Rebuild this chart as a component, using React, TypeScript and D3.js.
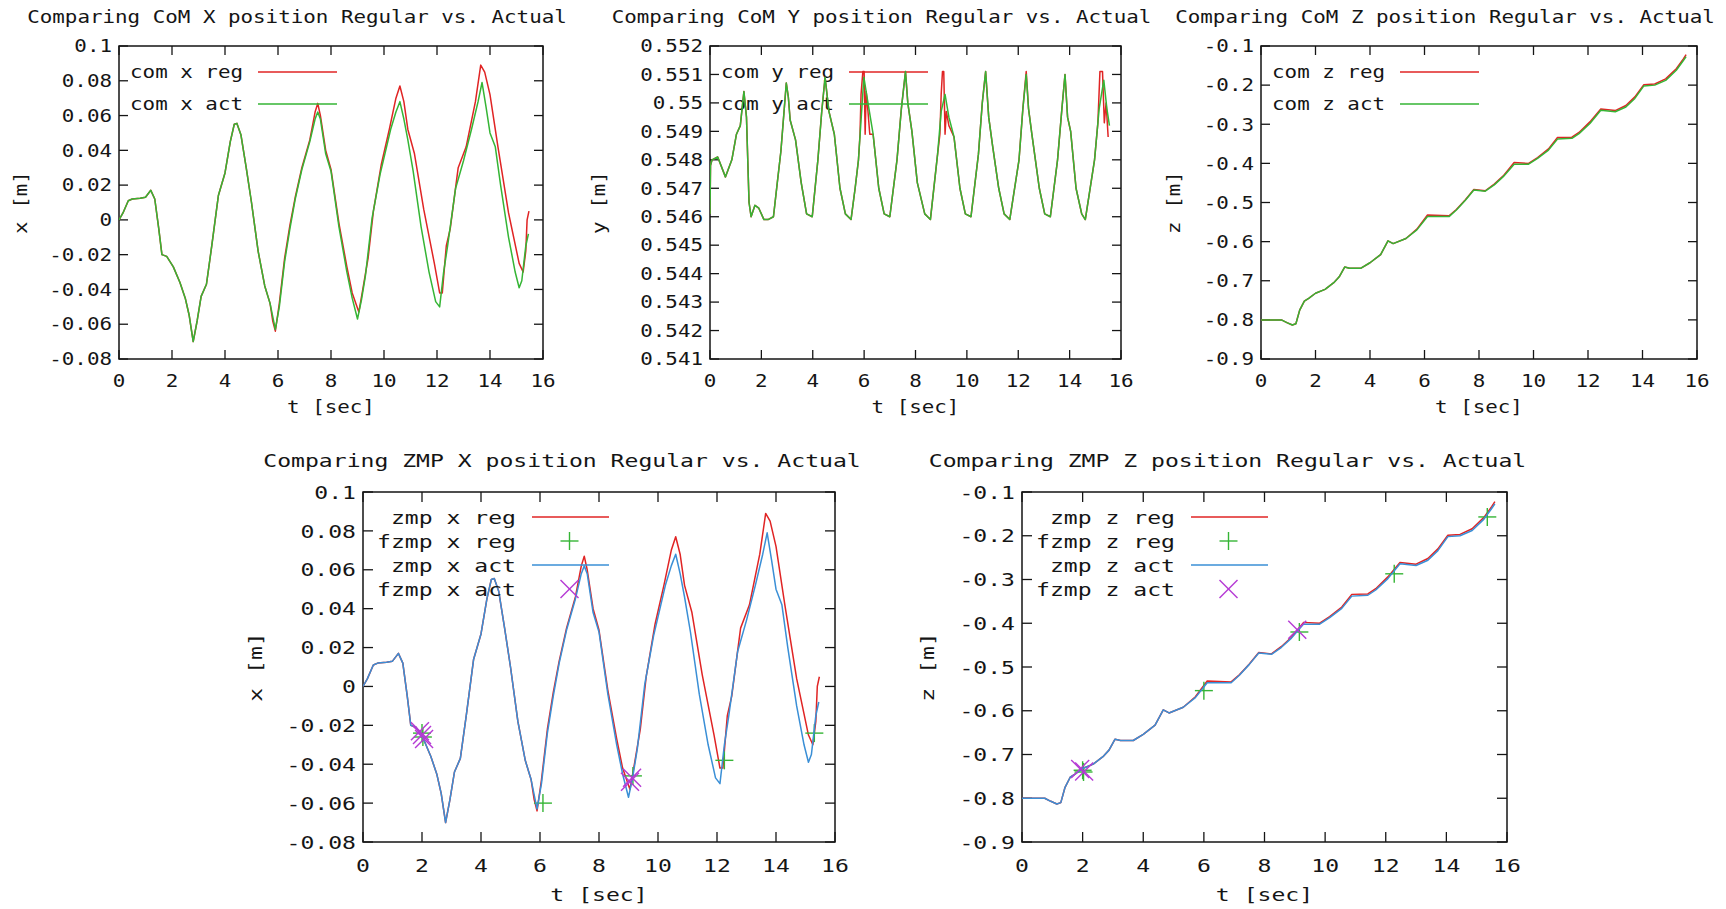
import React, { useEffect, useRef } from 'react';
import * as d3 from 'd3';

const WIDTH = 1726;
const HEIGHT = 909;

type Pt = [number, number];

// ---- data: [t sec, value m] ----
const comXAct: Pt[] = [
  [0, 0], [0.15, 0.004], [0.35, 0.011], [0.5, 0.012], [0.8, 0.0125], [1.0, 0.013], [1.2, 0.017],
  [1.35, 0.012], [1.5, -0.005], [1.62, -0.02], [1.8, -0.021], [2.05, -0.027], [2.3, -0.036],
  [2.5, -0.045], [2.65, -0.055], [2.8, -0.07], [2.95, -0.058], [3.1, -0.044], [3.3, -0.037],
  [3.5, -0.015], [3.75, 0.014], [4.0, 0.027], [4.2, 0.045], [4.35, 0.055], [4.45, 0.0555],
  [4.6, 0.049], [4.8, 0.03], [5.0, 0.01], [5.25, -0.018], [5.5, -0.038], [5.7, -0.048],
  [5.9, -0.063], [6.05, -0.05], [6.25, -0.024], [6.45, -0.005], [6.65, 0.012], [6.9, 0.029],
  [7.2, 0.045], [7.4, 0.058], [7.5, 0.062], [7.6, 0.058], [7.8, 0.038], [8.0, 0.028],
  [8.3, -0.004], [8.6, -0.03], [8.8, -0.045], [9.0, -0.057], [9.15, -0.046], [9.3, -0.032],
  [9.55, 0.001], [9.85, 0.026], [10.25, 0.052], [10.45, 0.062], [10.6, 0.068], [10.75, 0.058],
  [10.9, 0.046], [11.1, 0.028], [11.4, -0.004], [11.7, -0.03], [11.95, -0.047], [12.1, -0.05],
  [12.25, -0.03], [12.4, -0.015], [12.7, 0.018], [13.0, 0.034], [13.3, 0.052], [13.55, 0.068],
  [13.7, 0.079], [13.85, 0.065], [14.0, 0.05], [14.2, 0.042], [14.4, 0.02], [14.7, -0.01],
  [14.95, -0.03], [15.1, -0.039], [15.2, -0.035], [15.35, -0.015], [15.45, -0.008],
];

const comXReg: Pt[] = [
  ...comXAct.filter((d) => d[0] < 5.8),
  [5.8, -0.058], [5.9, -0.064], [6.05, -0.048], [6.25, -0.022], [6.45, -0.003], [6.65, 0.013],
  [6.9, 0.03], [7.2, 0.046], [7.4, 0.062], [7.5, 0.067], [7.6, 0.06], [7.8, 0.04], [8.0, 0.029],
  [8.3, -0.002], [8.6, -0.027], [8.8, -0.042], [9.05, -0.053], [9.2, -0.04], [9.4, -0.022],
  [9.6, 0.005], [9.9, 0.032], [10.2, 0.052], [10.45, 0.07], [10.6, 0.077], [10.75, 0.068],
  [10.9, 0.052], [11.15, 0.038], [11.5, 0.006], [11.9, -0.025], [12.1, -0.042], [12.2, -0.042],
  [12.35, -0.015], [12.5, -0.005], [12.8, 0.03], [13.1, 0.042], [13.45, 0.068], [13.65, 0.089],
  [13.8, 0.085], [14.0, 0.072], [14.3, 0.042], [14.7, 0.004], [15.1, -0.025], [15.25, -0.03],
  [15.35, -0.018], [15.4, 0.0], [15.47, 0.005],
];

const comYAct: Pt[] = [
  [0, 0.5461], [0.02, 0.5478], [0.08, 0.548], [0.3, 0.5481], [0.6, 0.5474], [0.85, 0.548],
  [1.03, 0.5489], [1.18, 0.5492], [1.32, 0.5504], [1.42, 0.5495], [1.52, 0.5465], [1.6, 0.546],
  [1.75, 0.5464], [1.9, 0.5463], [2.1, 0.5459], [2.26, 0.5459], [2.47, 0.546], [2.62, 0.5472],
  [2.76, 0.5483], [2.97, 0.5507], [3.05, 0.5502], [3.12, 0.5494], [3.33, 0.5487], [3.55, 0.5472],
  [3.76, 0.5461], [3.98, 0.546], [4.2, 0.548], [4.35, 0.5497], [4.48, 0.5509], [4.63, 0.5497],
  [4.84, 0.5489], [5.06, 0.547], [5.27, 0.5461], [5.49, 0.5459], [5.65, 0.547], [5.78, 0.548],
  [5.99, 0.5509], [6.15, 0.55], [6.35, 0.5489], [6.57, 0.547], [6.78, 0.5461], [7.0, 0.546],
  [7.28, 0.548], [7.45, 0.5498], [7.61, 0.5511], [7.7, 0.55], [7.86, 0.549], [8.07, 0.5472],
  [8.36, 0.5461], [8.58, 0.5459], [8.86, 0.5482], [9.0, 0.5497], [9.15, 0.5503], [9.3, 0.5495],
  [9.5, 0.5488], [9.73, 0.547], [9.94, 0.5461], [10.16, 0.546], [10.45, 0.5482], [10.6, 0.55],
  [10.73, 0.5511], [10.85, 0.5495], [11.0, 0.5485], [11.24, 0.547], [11.45, 0.5461],
  [11.67, 0.5459], [12.03, 0.548], [12.18, 0.5498], [12.31, 0.551], [12.4, 0.5498],
  [12.53, 0.5489], [12.82, 0.547], [13.03, 0.5461], [13.25, 0.546], [13.53, 0.548],
  [13.7, 0.5498], [13.82, 0.551], [13.92, 0.5495], [14.04, 0.549], [14.25, 0.547],
  [14.47, 0.5461], [14.61, 0.5459], [14.97, 0.548], [15.15, 0.5498], [15.33, 0.5508],
  [15.45, 0.5498], [15.55, 0.5492],
];

const comYReg: Pt[] = [
  ...comYAct.filter((d) => d[0] <= 5.78),
  [5.84, 0.5489], [5.88, 0.5503], [5.95, 0.5511], [6.0, 0.5511], [6.04, 0.5489], [6.08, 0.5504],
  [6.15, 0.5497], [6.22, 0.5489], [6.35, 0.5489],
  ...comYAct.filter((d) => d[0] > 6.35 && d[0] <= 8.86),
  [8.95, 0.5489], [9.0, 0.5503], [9.05, 0.5511], [9.1, 0.5511], [9.15, 0.5489], [9.2, 0.5497],
  [9.3, 0.5492], [9.5, 0.5488],
  ...comYAct.filter((d) => d[0] > 9.5 && d[0] <= 12.18),
  [12.31, 0.5511],
  ...comYAct.filter((d) => d[0] > 12.31 && d[0] <= 14.97),
  [15.1, 0.5493], [15.18, 0.5511], [15.28, 0.5511], [15.35, 0.5493], [15.42, 0.55], [15.5, 0.5488],
];

const comZAct: Pt[] = [
  [0, -0.8], [0.75, -0.8], [0.95, -0.807], [1.15, -0.813], [1.28, -0.81], [1.42, -0.775],
  [1.59, -0.752], [1.75, -0.745], [2.0, -0.732], [2.35, -0.722], [2.67, -0.705], [2.87, -0.69],
  [3.07, -0.665], [3.25, -0.668], [3.67, -0.668], [4.0, -0.654], [4.39, -0.633], [4.66, -0.598],
  [4.85, -0.605], [5.32, -0.592], [5.72, -0.57], [6.11, -0.536], [6.9, -0.536], [7.17, -0.519],
  [7.5, -0.494], [7.81, -0.468], [8.23, -0.471], [8.56, -0.455], [8.89, -0.434], [9.29, -0.402],
  [9.82, -0.402], [10.15, -0.387], [10.55, -0.366], [10.88, -0.338], [11.41, -0.336],
  [11.67, -0.324], [12.07, -0.298], [12.47, -0.264], [13.0, -0.268], [13.39, -0.256],
  [13.72, -0.234], [14.05, -0.202], [14.45, -0.2], [14.85, -0.188], [15.24, -0.162],
  [15.5, -0.137], [15.6, -0.127],
];

const comZReg: Pt[] = [
  ...comZAct.filter((d) => d[0] < 5.7),
  [5.72, -0.568], [6.11, -0.532], [6.9, -0.534], [7.17, -0.518], [7.5, -0.493], [7.81, -0.467],
  [8.23, -0.47], [8.56, -0.453], [8.89, -0.432], [9.29, -0.398], [9.82, -0.4], [10.15, -0.385],
  [10.55, -0.363], [10.88, -0.334], [11.41, -0.333], [11.67, -0.321], [12.07, -0.294],
  [12.47, -0.261], [13.0, -0.265], [13.39, -0.252], [13.72, -0.23], [14.05, -0.199],
  [14.45, -0.197], [14.85, -0.184], [15.24, -0.158], [15.5, -0.133], [15.6, -0.122],
];

// ZMP curves coincide with the CoM curves in the picture
const zmpXReg: Pt[] = comXReg;
const zmpXAct: Pt[] = comXAct;
const zmpZReg: Pt[] = comZReg;
const zmpZAct: Pt[] = comZAct;

const fzmpXReg: Pt[] = [[2.0, -0.024], [2.03, -0.026], [6.1, -0.06], [9.15, -0.046], [12.25, -0.038], [15.3, -0.024]];
const fzmpXAct: Pt[] = [[1.93, -0.023], [2.0, -0.025], [2.07, -0.027], [9.05, -0.049], [9.12, -0.047]];
const fzmpZReg: Pt[] = [[2.0, -0.736], [2.03, -0.74], [6.0, -0.554], [9.15, -0.42], [12.28, -0.287], [15.35, -0.157]];
const fzmpZAct: Pt[] = [[1.92, -0.733], [2.05, -0.739], [9.08, -0.415]];

const timeTicks = [0, 2, 4, 6, 8, 10, 12, 14, 16];
const comXTicks = [-0.08, -0.06, -0.04, -0.02, 0, 0.02, 0.04, 0.06, 0.08, 0.1];
const comYTicks = [0.541, 0.542, 0.543, 0.544, 0.545, 0.546, 0.547, 0.548, 0.549, 0.55, 0.551, 0.552];
const comZTicks = [-0.9, -0.8, -0.7, -0.6, -0.5, -0.4, -0.3, -0.2, -0.1];

const RED = '#e02424';
const GREEN = '#35b535';
const BLUE = '#3a8fd6';
const PURPLE = '#b53ad4';
const INK = '#151515';
const FONT = '"DejaVu Sans Mono", monospace';

type Series = { name: string; data: Pt[]; color: string; kind: 'line' | 'plus' | 'cross' };

type Panel = {
  box: { l: number; r: number; t: number; b: number };
  ticks: number[];
  title: string;
  ylabel: string;
  ylabelX: number;
  big: boolean;
  series: Series[];
};

const panels: Panel[] = [
  {
    box: { l: 119, r: 543, t: 46, b: 359 }, ticks: comXTicks, ylabelX: 27, big: false,
    title: 'Comparing CoM X position Regular vs. Actual', ylabel: 'x [m]',
    series: [
      { name: 'com x reg', data: comXReg, color: RED, kind: 'line' },
      { name: 'com x act', data: comXAct, color: GREEN, kind: 'line' },
    ],
  },
  {
    box: { l: 710, r: 1121, t: 46, b: 359 }, ticks: comYTicks, ylabelX: 605, big: false,
    title: 'Comparing CoM Y position Regular vs. Actual', ylabel: 'y [m]',
    series: [
      { name: 'com y reg', data: comYReg, color: RED, kind: 'line' },
      { name: 'com y act', data: comYAct, color: GREEN, kind: 'line' },
    ],
  },
  {
    box: { l: 1261, r: 1697, t: 46, b: 359 }, ticks: comZTicks, ylabelX: 1180, big: false,
    title: 'Comparing CoM Z position Regular vs. Actual', ylabel: 'z [m]',
    series: [
      { name: 'com z reg', data: comZReg, color: RED, kind: 'line' },
      { name: 'com z act', data: comZAct, color: GREEN, kind: 'line' },
    ],
  },
  {
    box: { l: 363, r: 835, t: 492, b: 842 }, ticks: comXTicks, ylabelX: 262, big: true,
    title: 'Comparing ZMP X position Regular vs. Actual', ylabel: 'x [m]',
    series: [
      { name: 'zmp x reg', data: zmpXReg, color: RED, kind: 'line' },
      { name: 'fzmp x reg', data: fzmpXReg, color: GREEN, kind: 'plus' },
      { name: 'zmp x act', data: zmpXAct, color: BLUE, kind: 'line' },
      { name: 'fzmp x act', data: fzmpXAct, color: PURPLE, kind: 'cross' },
    ],
  },
  {
    box: { l: 1022, r: 1507, t: 492, b: 842 }, ticks: comZTicks, ylabelX: 934, big: true,
    title: 'Comparing ZMP Z position Regular vs. Actual', ylabel: 'z [m]',
    series: [
      { name: 'zmp z reg', data: zmpZReg, color: RED, kind: 'line' },
      { name: 'fzmp z reg', data: fzmpZReg, color: GREEN, kind: 'plus' },
      { name: 'zmp z act', data: zmpZAct, color: BLUE, kind: 'line' },
      { name: 'fzmp z act', data: fzmpZAct, color: PURPLE, kind: 'cross' },
    ],
  },
];

const fmt = (v: number) => String(Number(v.toFixed(4)));

function drawMarker(g: any, kind: 'plus' | 'cross', cx: number, cy: number, color: string, h: number) {
  const segs = kind === 'plus'
    ? [[cx - h, cy, cx + h, cy], [cx, cy - h, cx, cy + h]]
    : [[cx - h, cy - h, cx + h, cy + h], [cx - h, cy + h, cx + h, cy - h]];
  segs.forEach((s) => {
    g.append('line').attr('x1', s[0]).attr('y1', s[1]).attr('x2', s[2]).attr('y2', s[3])
      .attr('stroke', color).attr('stroke-width', 1.4);
  });
}

function drawPanel(svg: any, p: Panel, idx: number) {
  // wide, short glyphs like gnuplot's bitmap font: monospace widened via a vertical squash
  const adv = p.big ? 13.9 : 12.56;
  const fs = adv / 0.602;
  const capH = p.big ? 13.3 : 12.5;
  const sy = capH / (0.729 * fs);
  const half = capH / 2;
  const tick = p.big ? 10 : 9;
  const { l, r, t, b } = p.box;
  const x = d3.scaleLinear().domain([0, 16]).range([l, r]);
  const y = d3.scaleLinear().domain([p.ticks[0], p.ticks[p.ticks.length - 1]]).range([b, t]);
  const g = svg.append('g');

  const text = (s: string, tx: number, ty: number, anchor: string, rot = 0) =>
    g.append('text').text(s).attr('x', 0).attr('y', 0).attr('text-anchor', anchor)
      .attr('transform', `translate(${tx},${ty}) rotate(${rot}) scale(1,${sy})`)
      .attr('font-family', FONT).attr('font-size', fs).attr('fill', INK)
      .attr('xml:space', 'preserve');

  // border and ticks (mirrored, inward)
  g.append('rect').attr('x', l).attr('y', t).attr('width', r - l).attr('height', b - t)
    .attr('fill', 'none').attr('stroke', INK).attr('stroke-width', 1.5);
  timeTicks.forEach((v) => {
    g.append('line').attr('x1', x(v)).attr('x2', x(v)).attr('y1', b).attr('y2', b - tick).attr('stroke', INK).attr('stroke-width', 1.3);
    g.append('line').attr('x1', x(v)).attr('x2', x(v)).attr('y1', t).attr('y2', t + tick).attr('stroke', INK).attr('stroke-width', 1.3);
    text(fmt(v), x(v), b + (p.big ? 29.5 : 27.5), 'middle');
  });
  p.ticks.forEach((v) => {
    g.append('line').attr('x1', l).attr('x2', l + tick).attr('y1', y(v)).attr('y2', y(v)).attr('stroke', INK).attr('stroke-width', 1.3);
    g.append('line').attr('x1', r).attr('x2', r - tick).attr('y1', y(v)).attr('y2', y(v)).attr('stroke', INK).attr('stroke-width', 1.3);
    text(fmt(v), l - 7, y(v) + half, 'end');
  });

  // titles and axis labels
  const cx = (l + r) / 2;
  text(p.title, cx - (p.big ? 37 : 34), p.big ? t - 25.5 : t - 23.5, 'middle');
  text('t [sec]', cx, b + (p.big ? 59 : 54), 'middle');
  text(p.ylabel, p.ylabelX, (t + b) / 2, 'middle', -90);

  const clipId = `clip${idx}`;
  svg.append('clipPath').attr('id', clipId).append('rect')
    .attr('x', l).attr('y', t).attr('width', r - l).attr('height', b - t);

  const line = d3.line<Pt>().x((d) => x(d[0])).y((d) => y(d[1]));
  const keyText = p.big ? 153 : 124;
  const keyS0 = p.big ? 169 : 139;
  const keyS1 = p.big ? 246 : 218;
  const rowGap = p.big ? 24 : 32;
  const row0 = p.big ? 25 : 26;
  const mk = 9;

  p.series.forEach((s, i) => {
    const ky = t + row0 + i * rowGap;
    text(s.name, l + keyText, ky + half, 'end');
    if (s.kind === 'line') {
      g.append('line').attr('x1', l + keyS0).attr('x2', l + keyS1).attr('y1', ky).attr('y2', ky)
        .attr('stroke', s.color).attr('stroke-width', 1.5);
      g.append('path').attr('d', line(s.data)).attr('fill', 'none').attr('stroke', s.color)
        .attr('stroke-width', 1.5).attr('stroke-linejoin', 'round').attr('clip-path', `url(#${clipId})`);
    } else {
      const kind = s.kind;
      drawMarker(g, kind, l + (keyS0 + keyS1) / 2 - 1, ky, s.color, mk);
      s.data.forEach((d) => drawMarker(g, kind, x(d[0]), y(d[1]), s.color, mk));
    }
  });
}

export default function App() {
  const ref = useRef<SVGSVGElement>(null);
  useEffect(() => {
    const svg = d3.select(ref.current);
    svg.selectAll('*').remove();
    svg.append('rect').attr('width', WIDTH).attr('height', HEIGHT).attr('fill', '#fff');
    panels.forEach((p, i) => drawPanel(svg, p, i));
  }, []);
  return (
    <div style={{ position: 'absolute', left: 0, top: 0 }}>
      <svg ref={ref} width={WIDTH} height={HEIGHT} style={{ display: 'block' }} />
    </div>
  );
}
